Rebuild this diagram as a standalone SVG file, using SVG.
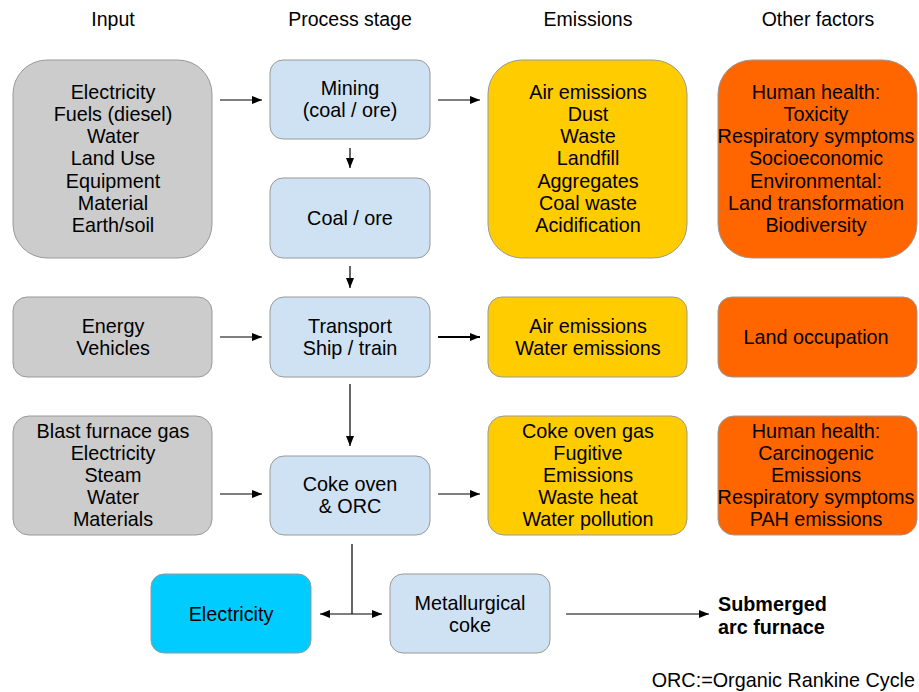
<svg xmlns="http://www.w3.org/2000/svg" width="919" height="692" viewBox="0 0 919 692">
<defs>
<marker id="ah" viewBox="0 0 10 10" refX="10" refY="5" markerWidth="10" markerHeight="10" markerUnits="userSpaceOnUse" orient="auto-start-reverse">
<path d="M0,1 L10,5 L0,9 z" fill="#000"/>
</marker>
<style>
text{font-family:"Liberation Sans",Arial,sans-serif;font-size:19.8px;fill:#000;text-anchor:middle}
.hdr{font-size:19.5px}
.b{font-weight:bold;text-anchor:start}
.grey{fill:#cccccc;stroke:#999999;stroke-width:1}
.blue{fill:#cfe2f3;stroke:#999999;stroke-width:1}
.yel{fill:#ffcc00;stroke:#999999;stroke-width:1}
.org{fill:#ff6600;stroke:#999999;stroke-width:1}
.cyan{fill:#00ccff;stroke:#999999;stroke-width:1}
.c{stroke:#000;stroke-width:1.2;fill:none}
.c2{stroke:#000;stroke-width:2;fill:none}
</style>
</defs>
<rect width="919" height="692" fill="#fff"/>
<g id="headers">
<text class="hdr" x="113" y="26">Input</text>
<text class="hdr" x="350" y="26">Process stage</text>
<text class="hdr" x="588" y="26">Emissions</text>
<text class="hdr" x="818" y="26">Other factors</text>
</g>
<g id="input1"><rect class="grey" x="13" y="60" width="199" height="198" rx="34"/>
<text x="113" y="99">Electricity</text><text x="113" y="121">Fuels (diesel)</text><text x="113" y="143">Water</text><text x="113" y="165">Land Use</text><text x="113" y="187.5">Equipment</text><text x="113" y="209.5">Material</text><text x="113" y="231.5">Earth/soil</text></g>
<g id="mining"><rect class="blue" x="270" y="60" width="160" height="79" rx="13"/>
<text x="350" y="95">Mining</text><text x="350" y="117">(coal / ore)</text></g>
<g id="coalore"><rect class="blue" x="270" y="178" width="160" height="80" rx="13"/>
<text x="350" y="225">Coal / ore</text></g>
<g id="emis1"><rect class="yel" x="488" y="60" width="199" height="198" rx="34"/>
<text x="588" y="99">Air emissions</text><text x="588" y="121">Dust</text><text x="588" y="143">Waste</text><text x="588" y="165">Landfill</text><text x="588" y="187.5">Aggregates</text><text x="588" y="209.5">Coal waste</text><text x="588" y="231.5">Acidification</text></g>
<g id="other1"><rect class="org" x="718" y="60" width="199" height="198" rx="34"/>
<text x="816" y="99">Human health:</text><text x="816" y="121">Toxicity</text><text x="816" y="143">Respiratory symptoms</text><text x="816" y="165">Socioeconomic</text><text x="816" y="187.5">Environmental:</text><text x="816" y="209.5">Land transformation</text><text x="816" y="231.5">Biodiversity</text></g>
<g id="input2"><rect class="grey" x="13" y="297" width="199" height="80" rx="14"/>
<text x="113" y="333">Energy</text><text x="113" y="355">Vehicles</text></g>
<g id="transport"><rect class="blue" x="270" y="297" width="160" height="80" rx="14"/>
<text x="350" y="333">Transport</text><text x="350" y="355">Ship / train</text></g>
<g id="emis2"><rect class="yel" x="488" y="297" width="199" height="80" rx="14"/>
<text x="588" y="333">Air emissions</text><text x="588" y="355">Water emissions</text></g>
<g id="other2"><rect class="org" x="718" y="297" width="199" height="80" rx="14"/>
<text x="816" y="344">Land occupation</text></g>
<g id="input3"><rect class="grey" x="13" y="416" width="199" height="119" rx="16"/>
<text x="113" y="438">Blast furnace gas</text><text x="113" y="460">Electricity</text><text x="113" y="482">Steam</text><text x="113" y="504">Water</text><text x="113" y="526">Materials</text></g>
<g id="cokeoven"><rect class="blue" x="270" y="456" width="160" height="79" rx="14"/>
<text x="350" y="491">Coke oven</text><text x="350" y="513">&amp; ORC</text></g>
<g id="emis3"><rect class="yel" x="488" y="416" width="199" height="119" rx="16"/>
<text x="588" y="438">Coke oven gas</text><text x="588" y="460">Fugitive</text><text x="588" y="482">Emissions</text><text x="588" y="504">Waste heat</text><text x="588" y="526">Water pollution</text></g>
<g id="other3"><rect class="org" x="718" y="416" width="199" height="119" rx="16"/>
<text x="816" y="438">Human health:</text><text x="816" y="460">Carcinogenic</text><text x="816" y="482">Emissions</text><text x="816" y="504">Respiratory symptoms</text><text x="816" y="526">PAH emissions</text></g>
<g id="electricity"><rect class="cyan" x="151" y="574" width="160" height="79" rx="13"/>
<text x="231" y="621">Electricity</text></g>
<g id="metcoke"><rect class="blue" x="390" y="574" width="160" height="79" rx="13"/>
<text x="470" y="610">Metallurgical</text><text x="470" y="632">coke</text></g>
<g id="saf"><text class="b" x="718" y="611">Submerged</text><text class="b" x="718" y="634">arc furnace</text></g>
<g id="note"><text x="915" y="687" style="text-anchor:end">ORC:=Organic Rankine Cycle</text></g>
<g id="connectors">
<line class="c" x1="220" y1="100" x2="262" y2="100" marker-end="url(#ah)"/>
<line class="c" x1="438" y1="100" x2="480" y2="100" marker-end="url(#ah)"/>
<line class="c" x1="350" y1="148" x2="350" y2="168" marker-end="url(#ah)"/>
<line class="c" x1="350" y1="266" x2="350" y2="288" marker-end="url(#ah)"/>
<line class="c" x1="220" y1="337" x2="262" y2="337" marker-end="url(#ah)"/>
<line class="c2" x1="438" y1="337" x2="480" y2="337" marker-end="url(#ah)"/>
<line class="c" x1="350" y1="384" x2="350" y2="446" marker-end="url(#ah)"/>
<line class="c" x1="220" y1="494" x2="262" y2="494" marker-end="url(#ah)"/>
<line class="c" x1="438" y1="494" x2="480" y2="494" marker-end="url(#ah)"/>
<line class="c" x1="352" y1="544" x2="352" y2="614"/>
<line class="c" x1="320" y1="614" x2="382" y2="614" marker-start="url(#ah)" marker-end="url(#ah)"/>
<line class="c" x1="566" y1="614" x2="709" y2="614" marker-end="url(#ah)"/>
</g>
</svg>
